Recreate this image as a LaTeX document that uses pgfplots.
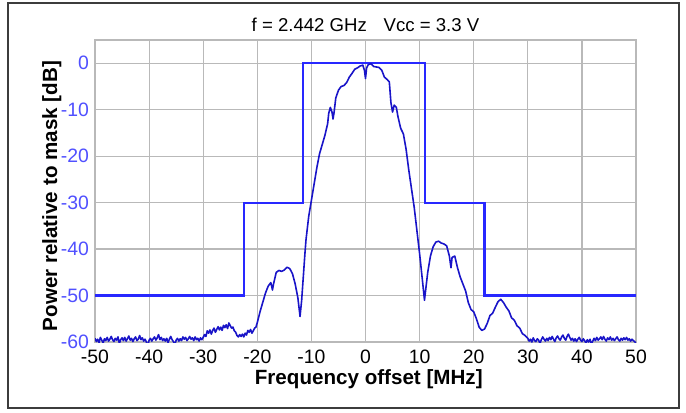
\documentclass[border=0pt]{standalone}
\usepackage{pgfplots}
\pgfplotsset{compat=1.18}
\usepackage{fontspec}
\setmainfont{Liberation Sans}
\definecolor{maskblue}{RGB}{40,40,255}
\definecolor{specblue}{RGB}{25,20,200}
\definecolor{ticklblue}{RGB}{80,80,255}
\definecolor{gridgray}{RGB}{185,185,185}
\definecolor{framegray}{RGB}{60,60,60}
\begin{document}
\begin{tikzpicture}
\begin{axis}[
  scale only axis,
  width=270.5pt, height=151pt,
  xmin=-50, xmax=50, ymin=-60, ymax=5,
  xtick={-50,-40,...,50},
  ytick={-60,-50,...,0},
  grid=major,
  major grid style={gridgray, line width=0.6pt},
  axis line style={gridgray, line width=0.6pt},
  major tick length=0pt,
  /pgf/number format/assume math mode=true,
  font=\fontsize{9.7pt}{11pt}\selectfont,
  yticklabel style={color=ticklblue, xshift=0.5pt},
  xticklabel style={yshift=-0.5pt},
  clip mode=individual,
  xlabel={\textbf{Frequency offset [MHz]}},
  ylabel={\textbf{Power relative to mask [dB]}},
  every axis x label/.style={at={(rel axis cs:0.506,-0.1225)}, anchor=center, font=\fontsize{10.3pt}{12pt}\selectfont},
  every axis y label/.style={at={(rel axis cs:-0.080,0.483)}, anchor=center, rotate=90, font=\fontsize{10.3pt}{12pt}\selectfont},
]
\path[use as bounding box] (rel axis cs:-0.1756,-0.2318) rectangle (rel axis cs:1.0924,1.1325);
\draw[framegray, line width=0.8pt] (rel axis cs:-0.1608,-0.2185) rectangle (rel axis cs:1.0795,1.1225);
\node[anchor=center, font=\fontsize{9.3pt}{11pt}\selectfont] at (rel axis cs:0.5,1.05) {f = 2.442 GHz\hspace{0.9em}Vcc = 3.3 V};
\addplot[maskblue, line width=1.1pt] coordinates {
(-50,-50) (-22.5,-50) (-22.5,-30) (-11.5,-30) (-11.5,0) (11,0) (11,-30) (22,-30) (22,-50) (50,-50)
};
\addplot[specblue, line width=0.8pt, line join=round] table {
x y
-50 -59.2
-49.75 -59.9
-49.5 -59.4
-49.25 -60.1
-49 -59.0
-48.75 -59.6
-48.5 -60.2
-48.25 -59.3
-48 -59.7
-47.75 -59.0
-47.5 -59.8
-47.25 -59.4
-47 -58.8
-46.75 -59.5
-46.5 -59.9
-46.25 -59.2
-46 -59.6
-45.75 -58.9
-45.5 -60.3
-45.25 -59.5
-45 -59.1
-44.75 -59.7
-44.5 -59.0
-44.25 -59.8
-44 -59.3
-43.75 -58.7
-43.5 -59.6
-43.25 -59.2
-43 -59.9
-42.75 -59.3
-42.5 -58.9
-42.25 -59.7
-42 -59.4
-41.75 -58.6
-41.5 -59.5
-41.25 -59.1
-41 -59.8
-40.75 -59.4
-40.5 -60.0
-40.25 -60.9
-40 -59.6
-39.75 -59.2
-39.5 -59.8
-39.25 -59.3
-39 -58.9
-38.75 -59.6
-38.5 -59.1
-38.25 -58.4
-38 -59.5
-37.75 -59.0
-37.5 -59.7
-37.25 -59.3
-37 -59.8
-36.75 -59.2
-36.5 -60.1
-36.25 -59.4
-36 -58.8
-35.75 -59.5
-35.5 -59.9
-35.25 -60.6
-35 -59.6
-34.75 -59.2
-34.5 -59.8
-34.25 -59.3
-34 -59.7
-33.75 -58.9
-33.5 -59.4
-33.25 -59.0
-33 -59.7
-32.75 -59.3
-32.5 -58.8
-32.25 -59.4
-32 -59.1
-31.75 -59.7
-31.5 -58.9
-31.25 -59.5
-31 -59.2
-30.75 -59.8
-30.5 -59.1
-30.25 -59.5
-30 -59.0
-29.75 -58.4
-29.5 -58.8
-29.25 -57.6
-29 -58.1
-28.75 -57.4
-28.5 -58.3
-28.25 -57.5
-28 -57.0
-27.75 -57.9
-27.5 -57.3
-27.25 -56.7
-27 -57.4
-26.75 -56.8
-26.5 -57.5
-26.25 -56.4
-26 -56.9
-25.75 -56.3
-25.5 -57.1
-25.25 -55.9
-25 -56.5
-24.75 -57.0
-24.5 -56.8
-24.25 -57.6
-24 -57.9
-23.75 -58.6
-23.5 -58.9
-23.25 -58.4
-23 -58.8
-22.75 -58.3
-22.5 -58.9
-22.25 -58.1
-22 -58.5
-21.75 -57.5
-21.5 -57.9
-21.25 -57.3
-21 -58.1
-20.75 -57.6
-20.5 -57.0
-20.25 -56.8
-20 -55.8
-19.5 -53.5
-19 -51.5
-18.5 -49.5
-18 -48.0
-17.5 -47.2
-17.2 -48.8
-17 -47.5
-16.5 -45.0
-16 -44.6
-15.5 -44.8
-15 -44.5
-14.5 -43.9
-14 -44.2
-13.5 -45.3
-13 -47.5
-12.5 -50.5
-12.1 -54.5
-11.8 -51.0
-11.5 -46.0
-11.2 -41.0
-11 -38.0
-10.5 -33.0
-10 -29.5
-9.5 -26.0
-9 -22.5
-8.5 -19.5
-8 -17.5
-7.5 -15.5
-7 -13.0
-6.8 -10.8
-6.5 -9.5
-6.2 -10.5
-6.0 -12.0
-5.8 -10.5
-5.5 -7.5
-5 -5.8
-4.5 -5.0
-4 -4.8
-3.5 -4.2
-3 -3.0
-2.5 -2.2
-2 -1.3
-1.5 -1.0
-1 -0.6
-0.5 -0.4
-0.2 -1.5
0 -3.3
0.2 -1.0
0.5 -0.3
1 -0.1
1.5 -0.7
2 -0.8
2.5 -0.9
3 -1.5
3.5 -3.0
4 -3.5
4.4 -4.0
4.7 -8.5
5 -10.5
5.3 -9.0
5.7 -9.5
6 -11.5
6.5 -14.0
7 -15.2
7.5 -18.5
8 -23.0
8.5 -27.0
9 -31.0
9.5 -36.0
10 -41.0
10.5 -46.5
10.9 -51.0
11.2 -48.0
11.5 -45.0
12 -41.5
12.5 -39.5
13 -38.5
13.5 -38.3
14 -38.7
14.5 -38.9
15 -39.3
15.5 -41.5
15.8 -44.0
16 -41.8
16.5 -41.5
17 -44.0
17.5 -46.0
18 -47.5
18.5 -49.0
19 -51.5
19.5 -53.0
20 -53.5
20.5 -55.0
21 -56.8
21.5 -57.5
22 -57.2
22.5 -56.0
23 -54.3
23.5 -53.8
24 -52.5
24.5 -51.3
25 -50.8
25.5 -51.5
26 -52.5
26.5 -53.3
27 -54.8
27.5 -55.3
28 -56.5
28.5 -57.0
29 -58.2
29.5 -58.6
30 -59.2
30.25 -59.8
30.5 -59.4
30.75 -60.0
31 -59.1
31.25 -59.7
31.5 -59.9
31.75 -59.3
32 -59.6
32.25 -60.3
32.5 -59.5
32.75 -58.9
33 -59.4
33.25 -59.8
33.5 -59.2
33.75 -59.7
34 -59.0
34.25 -59.5
34.5 -58.8
34.75 -59.4
35 -59.9
35.25 -59.1
35.5 -58.7
35.75 -59.3
36 -59.6
36.25 -58.9
36.5 -58.5
36.75 -59.2
37 -59.6
37.25 -58.8
37.5 -58.3
37.75 -59.0
38 -59.6
38.25 -59.2
38.5 -59.8
38.75 -59.3
39 -59.9
39.25 -59.4
39.5 -59.0
39.75 -59.6
40 -59.9
40.25 -59.3
40.5 -59.7
40.75 -60.2
41 -59.5
41.25 -60.0
41.5 -59.4
41.75 -60.4
42 -59.8
42.25 -59.2
42.5 -59.7
42.75 -59.0
43 -59.6
43.25 -59.3
43.5 -58.9
43.75 -59.5
44 -58.8
44.25 -59.4
44.5 -59.8
44.75 -59.1
45 -59.5
45.25 -58.9
45.5 -59.6
45.75 -59.2
46 -59.7
46.25 -59.3
46.5 -58.9
46.75 -59.5
47 -59.8
47.25 -59.2
47.5 -59.6
47.75 -59.1
48 -59.5
48.25 -59.0
48.5 -59.6
48.75 -59.3
49 -59.8
49.25 -59.4
49.5 -59.7
49.75 -59.9
50 -60.2
};
\end{axis}
\end{tikzpicture}
\end{document}
